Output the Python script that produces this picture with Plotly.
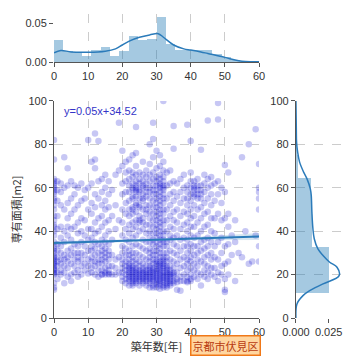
import numpy as np
import plotly.graph_objects as go

# ---------------- data ----------------
ages = list(range(0, 61))
areas_by_age = [
    [13, 14, 16, 20, 20.5, 21, 22, 22.5, 23, 24, 25, 25.5, 26, 27, 28, 28.5, 30, 31, 32, 33, 35, 38, 40, 42, 43, 45, 47, 50, 52, 54, 55, 57, 58, 59, 60, 61, 62, 63, 64, 73, 82],
    [18, 21, 24, 26, 28, 31, 34, 41, 47, 54, 59, 63],
    [20, 22, 25, 27, 30, 33, 37, 42, 52, 58, 62],
    [16, 21, 24, 27, 29, 35, 40, 50, 60, 74],
    [19, 23, 26, 28, 31, 38, 42, 46, 53, 61, 69],
    [17, 20, 25, 29, 32, 36, 41, 48, 55, 63],
    [21, 24, 27, 30, 34, 42, 50, 57, 61],
    [19, 22, 26, 28, 30, 33, 39, 44, 52, 60],
    [20, 24, 27, 30, 35, 40, 46, 54, 62],
    [22, 25, 29, 33, 38, 45, 55, 59],
    [20.5, 24, 27, 31, 36, 41, 50, 60, 82],
    [21, 23, 26, 28, 31, 33, 37, 41, 48, 53, 62, 72],
    [20, 24, 26, 29, 32, 35, 39, 44, 51, 57, 69, 73, 85],
    [19, 22, 25, 27, 30, 34, 40, 46, 55, 63, 81.5],
    [20, 20, 22, 25, 27, 29, 31, 33, 36, 42, 47, 52, 58, 64],
    [20, 21, 23, 26, 28, 30, 32, 35, 38, 44, 50, 54, 60, 66],
    [20, 20.5, 22, 24, 27, 29, 31, 34, 40, 45, 51, 57, 63],
    [20, 24, 29, 36, 47, 59],
    [20, 23, 27, 41, 52, 66],
    [21, 28, 45, 68, 90],
    [17, 19, 21, 23, 25, 27, 30, 33, 38, 44, 50, 57, 62, 70, 77],
    [16, 18, 20, 22, 24, 26, 29, 32, 36, 41, 48, 53, 58, 63, 67, 72],
    [15, 17, 18, 19, 20, 21, 22, 23, 24, 25, 27, 29, 31, 35, 39, 43, 47, 50, 54, 58, 61, 64, 68, 73],
    [15, 16, 17, 18, 19, 20, 21, 22, 23, 24, 26, 28, 30, 33, 37, 41, 44, 48, 50, 51, 55, 56, 59, 60, 62, 65, 67, 75],
    [16, 17, 18, 19, 20, 21, 22, 23, 25, 27, 30, 34, 38, 42, 45, 49, 52, 53, 56, 58, 59, 60, 61, 63, 66, 70, 76, 88],
    [15, 17, 18, 19, 20, 21, 22, 24, 26, 29, 33, 40, 44, 45, 47, 51, 52, 55, 58, 59, 62, 64, 67],
    [16, 17, 18, 19, 20, 21, 22, 23, 25, 28, 32, 36, 41, 44, 46, 50, 54, 55, 57, 60, 61, 63, 66, 72],
    [15, 17, 18, 19, 20, 21, 22, 24, 27, 31, 35, 39, 43, 48, 50, 52, 56, 58, 60, 62, 65, 68],
    [14, 16, 17, 18, 19, 20, 21, 22, 23, 24, 26, 28, 30, 32, 35, 37, 40, 43, 46, 49, 52, 55, 58, 60, 63, 66, 71, 80],
    [14, 15, 17, 18, 19, 20, 21, 22, 23, 25, 27, 29, 31, 34, 36, 39, 42, 45, 48, 51, 54, 57, 59, 61, 64, 67, 74, 82.5, 90],
    [14, 15.5, 16.5, 17.5, 18.5, 19.5, 20.5, 21.5, 22.5, 24, 25, 26, 27, 29, 31, 33, 35, 37, 39, 41, 43, 45, 47, 49, 51, 53, 55, 57, 59, 61, 63, 65, 69, 77],
    [13.5, 15, 16, 17, 18, 19, 20, 21, 22, 23, 24, 25, 26, 28, 30, 32, 34, 36, 38, 40, 42, 44, 46, 48, 50, 52, 54, 56, 58, 60, 61, 62, 64, 66, 70, 75],
    [14, 15, 16.5, 17.5, 18.5, 19.5, 20.5, 21.5, 23, 24, 25, 26, 27, 28, 30, 33, 35, 36, 38, 40, 43, 45, 48, 50, 53, 55, 57, 59, 60, 61, 63, 65, 68, 72, 100],
    [14, 15, 16, 17, 18, 19, 20, 21, 22, 23, 24, 26, 28, 30, 33, 35, 40, 45, 50, 55, 61, 67],
    [15, 16, 17, 18, 19, 20, 21, 22, 24, 27, 31, 36, 38, 42, 47, 52, 57, 62, 68],
    [16, 17, 19, 20, 21, 23, 26, 30, 34, 37, 41, 45, 49, 54, 58, 63, 78, 88.5],
    [13, 16.5, 18, 21, 25, 29, 33, 38, 44, 50, 56, 62],
    [12.5, 17, 19, 23, 27, 31, 36, 41, 47, 53, 58, 64],
    [17, 20, 24, 28, 33, 37, 43, 49, 55, 60, 66],
    [16.5, 17, 19, 22, 25, 27, 30, 33, 36, 40, 44, 48, 52, 55, 58, 61, 89],
    [17, 18, 20, 23, 26, 28, 31, 34, 38, 42, 46, 50, 54, 57, 60, 63, 67, 81.5],
    [19, 22, 25, 29, 33, 37, 42, 47, 52, 56, 57, 59, 60, 61, 63],
    [18, 21, 24, 27, 30, 33, 38, 44, 50, 55, 57, 59, 61, 64],
    [15, 20, 26, 31, 35, 40, 46, 51, 55, 57, 59, 61, 77.5],
    [19, 22, 25, 28, 32, 36, 42, 48, 53, 58, 62, 66],
    [18, 21, 24, 29, 33, 37, 43, 49, 55, 60, 64, 91],
    [20, 23, 27, 30, 35, 40, 46, 52, 57, 61, 65],
    [19, 23, 28, 33, 39, 46, 54, 62],
    [17, 21, 27, 35, 48, 57, 63, 91.5, 99],
    [20, 24, 30, 37, 45, 53, 60],
    [12, 13, 18, 25, 33, 46, 58, 70.5],
    [20, 26, 34, 42, 48, 67],
    [29, 38],
    [17, 35, 45],
    [30],
    [28, 74],
    [40],
    [25, 80],
    [26],
    [38, 87],
    [26, 33, 50, 55, 58, 60, 71],
]

reg_slope = 0.05
reg_intercept = 34.52
band_x = [0, 10, 20, 30, 40, 50, 60]
band_half = [0.9, 0.7, 0.5, 0.5, 0.7, 1.1, 1.6]

age_hist_density = [0.029, 0.014, 0.013, 0.008, 0.016, 0.019, 0.008, 0.014, 0.034, 0.028, 0.030,
                    0.058, 0.023, 0.016, 0.016, 0.016, 0.016, 0.010, 0.006, 0.003, 0.001, 0.001]
age_hist_range = (0, 60)

kde_age_x = [0, 2, 5, 10, 15, 18, 20, 22.5, 25, 28, 30.5, 32, 35, 38, 40, 43, 45, 50, 53, 55, 58, 60]
kde_age_density = [0.012, 0.015, 0.013, 0.0126, 0.014, 0.017, 0.022, 0.028, 0.032, 0.035, 0.0366, 0.032,
                   0.022, 0.017, 0.0155, 0.013, 0.011, 0.006, 0.0025, 0.001, 0.0004, 0.0003]

area_hist_start = 11.5
area_hist_width = 10.6
area_hist_density = [0.0253, 0.0253, 0.0125, 0.012, 0.0118, 0.0012, 0.0005, 0.0003, 0.0002]

kde_area_y = [0, 6.5, 10.3, 12.6, 15.7, 19.5, 23.4, 25.7, 28.8, 31.8, 36.5, 41, 48.8, 56.5, 59.5,
              64.2, 67.2, 71.8, 76.5, 81, 87, 100]
kde_area_density = [0, 0.0008, 0.0054, 0.0105, 0.0207, 0.033, 0.0314, 0.0258, 0.0207, 0.0168, 0.014,
                    0.013, 0.0122, 0.0117, 0.011, 0.0084, 0.0059, 0.0028, 0.0013, 0.0005, 0.0003, 0.0]

# ---------------- build ----------------
px_, py_ = [], []
for a, ys in zip(ages, areas_by_age):
    px_.extend([a] * len(ys))
    py_.extend(ys)

HIST_C = "rgba(31,119,180,0.4)"
LINE_C = "#2b7bba"
TXT = "#333333"
GRID = "#cccccc"

fig = go.Figure()

fig.add_trace(go.Scatter(x=px_, y=py_, mode="markers", xaxis="x", yaxis="y",
                         marker=dict(size=6.5, color="#0000cd", opacity=0.22, line=dict(width=0)),
                         hoverinfo="skip"))

bx = np.array(band_x, dtype=float)
bh = np.array(band_half)
by = reg_intercept + reg_slope * bx
fig.add_trace(go.Scatter(x=np.concatenate([bx, bx[::-1]]),
                         y=np.concatenate([by + bh, (by - bh)[::-1]]),
                         fill="toself", fillcolor="rgba(31,119,180,0.18)", line=dict(width=0),
                         mode="lines", xaxis="x", yaxis="y", hoverinfo="skip"))
fig.add_trace(go.Scatter(x=bx, y=by, mode="lines", line=dict(color=LINE_C, width=2),
                         xaxis="x", yaxis="y"))

n_age = len(age_hist_density)
age_w = (age_hist_range[1] - age_hist_range[0]) / n_age
age_centers = [age_hist_range[0] + (i + 0.5) * age_w for i in range(n_age)]
fig.add_trace(go.Bar(x=age_centers, y=age_hist_density, width=age_w, marker=dict(color=HIST_C, line=dict(width=0)),
                     xaxis="x2", yaxis="y2"))
fig.add_trace(go.Scatter(x=kde_age_x, y=kde_age_density, mode="lines", line=dict(color=LINE_C, width=1.5, shape="spline"),
                         xaxis="x2", yaxis="y2"))

area_centers = [area_hist_start + (i + 0.5) * area_hist_width for i in range(len(area_hist_density))]
fig.add_trace(go.Bar(y=area_centers, x=area_hist_density, width=area_hist_width, orientation="h",
                     marker=dict(color=HIST_C, line=dict(width=0)), xaxis="x3", yaxis="y3"))
fig.add_trace(go.Scatter(x=kde_area_density, y=kde_area_y, mode="lines", line=dict(color=LINE_C, width=1.5, shape="spline"),
                         xaxis="x3", yaxis="y3"))

tickfont = dict(family="Liberation Sans, Arial, sans-serif", size=11, color=TXT)
common = dict(tickfont=tickfont, ticks="outside", ticklen=4, tickcolor="#555", zeroline=False,
              automargin=False, gridcolor=GRID, griddash="dash", gridwidth=1)

fig.update_layout(
    width=352, height=352, showlegend=False, bargap=0,
    paper_bgcolor="white", plot_bgcolor="white",
    margin=dict(l=46, r=18, t=6, b=42),
    font=dict(family="Liberation Sans, Noto Sans CJK JP, sans-serif", size=11, color=TXT),
    xaxis=dict(domain=[0, 0.712], range=[0, 60], dtick=10, anchor="y", showgrid=True,
               showline=True, linecolor="#555", linewidth=1,
               title=dict(text="築年数[年]", font=dict(family="Noto Sans CJK JP", size=11, color=TXT), standoff=4),
               **common),
    yaxis=dict(domain=[0, 0.714], range=[0, 100], dtick=20, anchor="x", showgrid=True,
               showline=True, linecolor="#555", linewidth=1,
               title=dict(text="専有面積[m2]", font=dict(family="Noto Sans CJK JP", size=11, color=TXT), standoff=6),
               **common),
    xaxis2=dict(domain=[0, 0.712], range=[0, 60], dtick=10, anchor="y2", showgrid=True,
                showline=True, linecolor="#555", linewidth=1, **common),
    yaxis2=dict(domain=[0.842, 1.0], range=[0, 0.062], tickvals=[0, 0.05], ticktext=["0.00", "0.05"],
                anchor="x2", showgrid=False, showline=False, **common),
    xaxis3=dict(domain=[0.84, 1.0], range=[0, 0.0352], tickvals=[0, 0.025], ticktext=["0.000", "0.025"],
                anchor="y3", showgrid=False, showline=False, **common),
    yaxis3=dict(domain=[0, 0.714], range=[0, 100], dtick=20, anchor="x3", showgrid=True,
                showline=True, linecolor="#555", linewidth=1, **common),
    annotations=[
        dict(text="y=0.05x+34.52", x=2.3, y=95.4, xref="x", yref="y", xanchor="left", yanchor="middle",
             showarrow=False, font=dict(family="Liberation Sans, Arial, sans-serif", size=11, color="#3535c8")),
        dict(text="京都市伏見区", x=0.597, y=-0.089, xref="paper", yref="paper", xanchor="center", yanchor="middle",
             showarrow=False, bgcolor="#ffd6a0", bordercolor="#f07818", borderwidth=1.5, borderpad=1,
             font=dict(family="Noto Sans CJK JP", size=11, color="#b83a10")),
    ],
)

fig.write_html("out.html")
